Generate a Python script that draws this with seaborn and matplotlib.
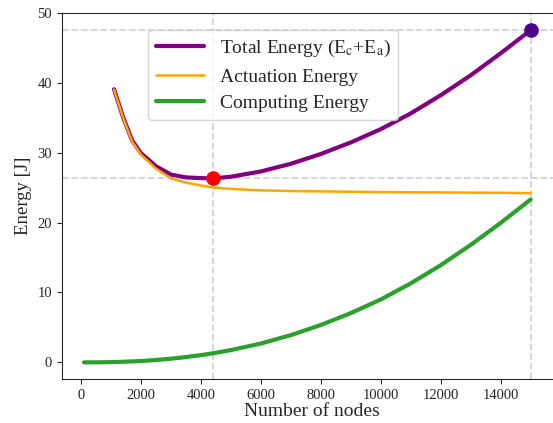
import matplotlib
matplotlib.use("Agg")
import matplotlib.pyplot as plt
import seaborn as sns
import pandas as pd

# --- DATA ---
nodes = [1100, 1400, 1700, 2000, 2500, 3000, 3500, 4000, 4400, 5000, 6000,
         7000, 8000, 9000, 10000, 11000, 12000, 13000, 14000, 15000]
actuation = [39.0, 35.0, 31.6, 29.7, 27.7, 26.3, 25.7, 25.3, 25.0, 24.8, 24.6,
             24.5, 24.45, 24.4, 24.35, 24.32, 24.3, 24.27, 24.25, 24.2]
total = [39.05, 35.1, 31.75, 29.9, 28.05, 26.85, 26.45, 26.35, 26.3, 26.55, 27.3,
         28.4, 29.8, 31.45, 33.35, 35.6, 38.2, 41.05, 44.2, 47.5]

nodes_comp = [100, 500, 1100, 1400, 1700, 2000, 2500, 3000, 3500, 4000, 4400, 5000,
              6000, 7000, 8000, 9000, 10000, 11000, 12000, 13000, 14000, 15000]
computing = [0.0, 0.01, 0.05, 0.09, 0.14, 0.2, 0.34, 0.53, 0.76, 1.04, 1.3, 1.76,
             2.7, 3.9, 5.35, 7.05, 9.0, 11.3, 13.9, 16.8, 19.95, 23.3]

opt_nodes, opt_energy = 4400, 26.3
max_nodes, max_energy = 15000, 47.5

df_main = pd.DataFrame({"nodes": nodes, "total": total, "actuation": actuation})
df_comp = pd.DataFrame({"nodes": nodes_comp, "computing": computing})

# --- STYLE ---
sns.set_style("ticks")
plt.rcParams["font.family"] = ["Liberation Serif", "DejaVu Serif"]
plt.rcParams["mathtext.fontset"] = "stix"

fig = plt.figure(figsize=(5.53, 4.23), dpi=100)
ax = fig.add_axes([0.1116, 0.104, 0.905, 0.866])

# reference lines
dash_kw = dict(color="#d3d3d3", linestyle="--", linewidth=1.3, zorder=0)
ax.axhline(max_energy, **dash_kw)
ax.axhline(opt_energy, **dash_kw)
ax.axvline(opt_nodes, **dash_kw)
ax.axvline(max_nodes, **dash_kw)

sns.lineplot(data=df_main, x="nodes", y="total", color="purple", linewidth=3,
             label="Total Energy (E$_{\\rm c}$+E$_{\\rm a}$)", ax=ax)
sns.lineplot(data=df_main, x="nodes", y="actuation", color="orange", linewidth=1.8,
             label="Actuation Energy", ax=ax)
sns.lineplot(data=df_comp, x="nodes", y="computing", color="#2ca02c", linewidth=3,
             label="Computing Energy", ax=ax)

ax.plot([opt_nodes], [opt_energy], "o", color="red", markersize=9.5, zorder=5)
ax.plot([max_nodes], [max_energy], "o", color="#4b0082", markersize=9.5, zorder=5)

# keep the x mapping of the reference: default 5% margins around 100..15000
ax.set_xlim(-645, 15745 + (15745 + 645) * (0.905 - 0.8884) / 0.8884)
ax.spines["right"].set_visible(False)
ax.set_xlabel("Number of nodes", fontsize=14, labelpad=1)
ax.set_ylabel("Energy [J]", fontsize=13.5)
ax.tick_params(labelsize=10.5)
ax.set_xticks(range(0, 15000, 2000))
ax.set_yticks(range(0, 51, 10))

ax.legend(loc="upper left", bbox_to_anchor=(0.172, 0.952), fontsize=14,
          handlelength=2.5, labelspacing=0.45, borderpad=0.4, borderaxespad=0)

fig.savefig("out.png", dpi=100)
